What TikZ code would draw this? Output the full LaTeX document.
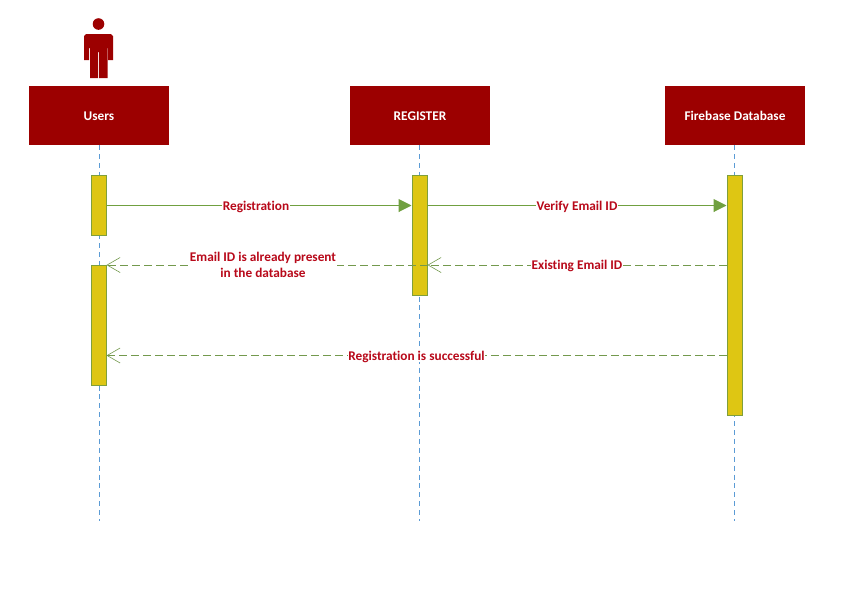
\documentclass[tikz,border=0pt]{standalone}
\usepackage{fontspec}
\setmainfont{Carlito}[Ligatures=NoCommon]
\usetikzlibrary{arrows.meta}
\definecolor{boxred}{HTML}{9C0000}
\definecolor{textred}{HTML}{B8091A}
\definecolor{baryellow}{HTML}{DEC613}
\definecolor{barline}{HTML}{7F9F3C}
\definecolor{msgline}{HTML}{70A040}
\definecolor{lifeblue}{HTML}{5B9BD5}
\begin{document}
\begin{tikzpicture}[x=1pt, y=-1pt, font=\bfseries\fontsize{13.3}{15.5}\selectfont,
  head/.style={draw=none, fill=boxred, text=white, minimum width=140pt, minimum height=59pt, inner sep=0pt, text height=12pt, text depth=3pt},
  bar/.style={draw=barline, line width=1pt, fill=baryellow, minimum width=15pt, minimum height=#1, inner sep=0pt},
  life/.style={draw=lifeblue, line width=0.7pt, dash pattern=on 5pt off 3.9pt},
  call/.style={draw=msgline, line width=1pt, -{Triangle[length=13pt,width=13pt]}},
  reply/.style={draw=msgline!80!gray, line width=0.9pt, dash pattern=on 8pt off 4pt, -{Straight Barb[length=13pt,width=15pt,line width=0.6pt]}},
  msg/.style={fill=white, text=textred, inner sep=0.5pt, align=center, text height=10pt, text depth=1pt}
]
  \useasboundingbox (0,0) rectangle (845,590);
  % actor
  \fill[boxred] (98.5,24) circle (5.8);
  \fill[boxred] (84,60) -- (84,36) -- (86,34) -- (111,34) -- (113,36) -- (113,60) -- (108,60) -- (108,48) -- (107.5,48) -- (107.5,78) -- (99.2,78) -- (99.2,52) -- (98,52) -- (98,78) -- (90,78) -- (90,48) -- (89,48) -- (89,60) -- cycle;
  % heads
  \node[head] (users)    at (99,115.5)  {Users};
  \node[head] (register) at (420,115.5) {REGISTER};
  \node[head] (firebase) at (735,115.5) {Firebase Database};
  % lifeline ends
  \coordinate (usersEnd)    at (99.5,521);
  \coordinate (registerEnd) at (419.5,521);
  \coordinate (firebaseEnd) at (734,521);
  \draw[life] (users.south -| usersEnd) -- (usersEnd);
  \draw[life] (register.south -| registerEnd) -- (registerEnd);
  \draw[life] (firebase.south -| firebaseEnd) -- (firebaseEnd);
  % bars
  \node[bar=60pt]  (usersA)    at (98.5,205.5)  {};
  \node[bar=120pt] (usersB)    at (98.5,325.5)  {};
  \node[bar=120pt] (registerA) at (419.5,235.5) {};
  \node[bar=240pt] (firebaseA) at (734.5,295.5) {};
  % messages
  \coordinate (okLevel) at (0,355.5);
  \draw[call] (usersA.east) -- node[msg, pos=0.49] (regMsg) {Registration} (usersA.east -| registerA.west);
  \draw[call] (usersA.east -| registerA.east) -- node[msg, pos=0.5] (verifyMsg) {Verify Email ID} (usersA.east -| firebaseA.west);
  \draw[reply] (usersB.north -| firebaseA.west) -- node[msg, pos=0.5] (existMsg) {Existing Email ID} (usersB.north -| registerA.east);
  \draw[reply] (usersB.north -| registerA.east) -- (usersB.north east);
  \node[fill=white, text=textred, inner sep=0.5pt, align=center] (emailMsg) at (263,265) {Email ID is already present\\in the database};
  \draw[reply] (okLevel -| firebaseA.west) -- node[msg, pos=0.5] (okMsg) {Registration is successful} (okLevel -| usersB.east);
\end{tikzpicture}
\end{document}
